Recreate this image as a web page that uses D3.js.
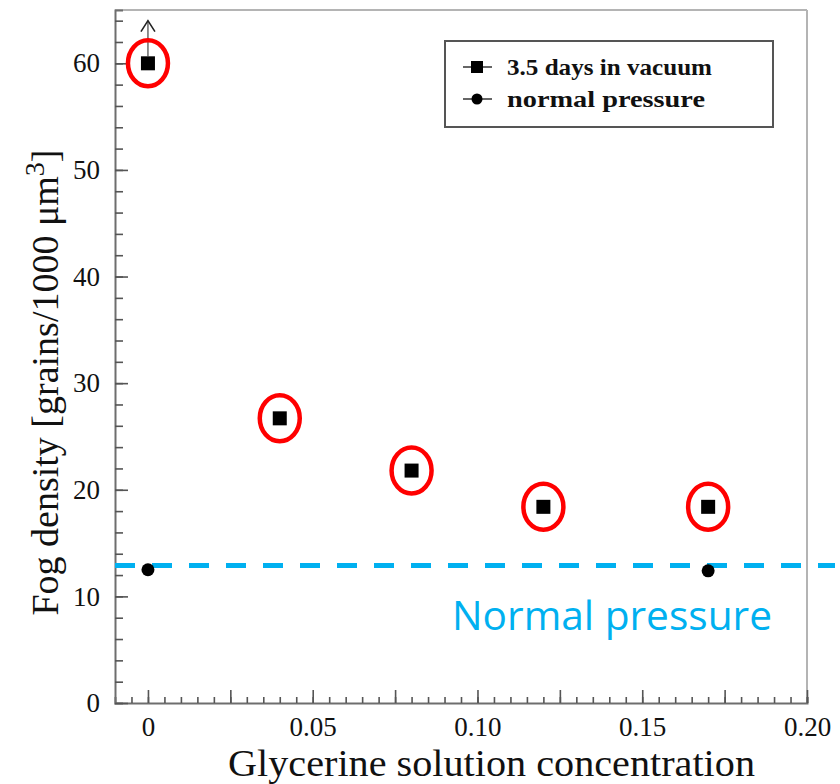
<!DOCTYPE html>
<html>
<head>
<meta charset="utf-8">
<script src="https://cdn.jsdelivr.net/npm/d3@7"></script>
<style>
  html, body { margin: 0; padding: 0; background: #fff; }
  svg { display: block; }
</style>
</head>
<body>
<svg id="chart" width="840" height="784"></svg>
<script>
// ---- data ----
const vacuumConc = [0, 0.04, 0.08, 0.12, 0.17];
const vacuumDensity = [60, 26.7, 21.8, 18.4, 18.4];
const normalConc = [0, 0.17];
const normalDensity = [12.5, 12.4];
const normalPressureLevel = 12.9;
const arrowTipValue = 64;
const xTickValues = [0, 0.05, 0.10, 0.15, 0.20];
const xTickLabels = ["0", "0.05", "0.10", "0.15", "0.20"];
const yTickValues = [0, 10, 20, 30, 40, 50, 60];
const yTickLabels = ["0", "10", "20", "30", "40", "50", "60"];
const legendLabels = ["3.5 days in vacuum", "normal pressure"];
const xTitle = "Glycerine solution concentration";
const annotationText = "Normal pressure";

// ---- layout ----
const svg = d3.select("#chart");
const L = 115, R = 807, T = 10, B = 703;
const x = d3.scaleLinear().domain([-0.01, 0.20]).range([L, R]);
const y = d3.scaleLinear().domain([0, 65]).range([B, T]);
const serif = "'Liberation Serif', 'DejaVu Serif', serif";

// frame (top/right)
svg.append("line").attr("x1", L).attr("x2", R).attr("y1", T).attr("y2", T)
  .attr("stroke", "#b4b4b4").attr("stroke-width", 2);
svg.append("line").attr("x1", R).attr("x2", R).attr("y1", T).attr("y2", B)
  .attr("stroke", "#b4b4b4").attr("stroke-width", 2);

// axes
function styleAxis(g) {
  g.select(".domain").attr("stroke", "#6e6e6e").attr("stroke-width", 2);
  g.selectAll(".tick line").attr("stroke", "#555").attr("stroke-width", 1.6);
}
const xMinor = d3.range(-0.005, 0.2001, 0.005);
const xMajor = d3.range(0, 0.2001, 0.025);
svg.append("g").attr("transform", `translate(0,${B})`)
  .call(d3.axisBottom(x).tickValues(xMinor).tickSize(-6).tickFormat(""))
  .call(styleAxis);
svg.append("g").attr("transform", `translate(0,${B})`)
  .call(d3.axisBottom(x).tickValues(xMajor).tickSize(-13).tickFormat(""))
  .call(g => g.select(".domain").remove())
  .call(styleAxis);
svg.append("g").attr("transform", `translate(0,${B})`)
  .call(d3.axisBottom(x).tickValues(xTickValues).tickSize(0)
    .tickFormat((d, i) => xTickLabels[i]).tickPadding(14))
  .call(g => g.select(".domain").remove())
  .call(g => g.selectAll("text").attr("font-family", serif).attr("font-size", 27)
    .attr("fill", "#111").attr("dy", "0.71em"));

const yMinor = d3.range(2, 65, 2);
svg.append("g").attr("transform", `translate(${L},0)`)
  .call(d3.axisLeft(y).tickValues(yMinor).tickSize(-8).tickFormat(""))
  .call(styleAxis);
svg.append("g").attr("transform", `translate(${L},0)`)
  .call(d3.axisLeft(y).tickValues(yTickValues).tickSize(-13).tickFormat(""))
  .call(g => g.select(".domain").remove())
  .call(styleAxis);
svg.append("g").attr("transform", `translate(${L},0)`)
  .call(d3.axisLeft(y).tickValues(yTickValues).tickSize(0)
    .tickFormat((d, i) => yTickLabels[i]).tickPadding(15))
  .call(g => g.select(".domain").remove())
  .call(g => g.selectAll("text").attr("font-family", serif).attr("font-size", 27)
    .attr("fill", "#111"));

// axis titles
svg.append("text").attr("x", (228 + 755) / 2).attr("y", 776)
  .attr("text-anchor", "middle").attr("font-family", serif).attr("font-size", 38)
  .attr("textLength", 527).attr("lengthAdjust", "spacingAndGlyphs")
  .attr("fill", "#111").text(xTitle);
const yt = svg.append("text").attr("transform", `translate(58,${(625 + 140) / 2}) rotate(-90)`)
  .attr("text-anchor", "middle").attr("font-family", serif).attr("font-size", 38)
  .attr("fill", "#111");
yt.append("tspan").text("Fog density [grains/1000 μm");
yt.append("tspan").attr("dy", -14).attr("font-size", 28).text("3");
yt.append("tspan").attr("dy", 14).text("]");

// normal pressure dashed line
svg.append("line")
  .attr("x1", L).attr("x2", 835)
  .attr("y1", y(normalPressureLevel)).attr("y2", y(normalPressureLevel))
  .attr("stroke", "#00b0f0").attr("stroke-width", 5)
  .attr("stroke-dasharray", "20 17");

svg.append("text").attr("x", 452).attr("y", 630)
  .attr("font-family", "'Open Sans', 'Noto Sans', sans-serif").attr("font-size", 40)
  .attr("textLength", 320).attr("lengthAdjust", "spacingAndGlyphs")
  .attr("fill", "#00b0f0").text(annotationText);

// arrow on first point
svg.append("line")
  .attr("x1", x(vacuumConc[0])).attr("x2", x(vacuumConc[0]))
  .attr("y1", y(vacuumDensity[0]) - 7).attr("y2", y(arrowTipValue))
  .attr("stroke", "#444").attr("stroke-width", 1.2);
svg.append("path")
  .attr("d", `M${x(0) - 7},${y(arrowTipValue) + 11} L${x(0)},${y(arrowTipValue)} L${x(0) + 7},${y(arrowTipValue) + 11}`)
  .attr("fill", "none").attr("stroke", "#222").attr("stroke-width", 1.6);

// vacuum squares
const sq = 14;
svg.append("g").selectAll("rect").data(vacuumConc).join("rect")
  .attr("x", d => x(d) - sq / 2).attr("y", (d, i) => y(vacuumDensity[i]) - sq / 2)
  .attr("width", sq).attr("height", sq).attr("fill", "#000");

// normal pressure circles
svg.append("g").selectAll("circle").data(normalConc).join("circle")
  .attr("cx", d => x(d)).attr("cy", (d, i) => y(normalDensity[i]))
  .attr("r", 6.5).attr("fill", "#000");

// red ellipses
svg.append("g").selectAll("ellipse").data(vacuumConc).join("ellipse")
  .attr("cx", d => x(d)).attr("cy", (d, i) => y(vacuumDensity[i]))
  .attr("rx", 20).attr("ry", 23)
  .attr("fill", "none").attr("stroke", "#f00").attr("stroke-width", 4.5);

// legend
const lg = svg.append("g");
lg.append("rect").attr("x", 445).attr("y", 41).attr("width", 328).attr("height", 86)
  .attr("fill", "#fff").attr("stroke", "#555").attr("stroke-width", 2);
const rowY = [67, 99];
lg.selectAll("line.seg").data(rowY).join("line").attr("class", "seg")
  .attr("x1", 463).attr("x2", 492).attr("y1", d => d).attr("y2", d => d)
  .attr("stroke", "#333").attr("stroke-width", 1.5);
lg.append("rect").attr("x", 477 - 6).attr("y", rowY[0] - 6).attr("width", 12).attr("height", 12).attr("fill", "#000");
lg.append("circle").attr("cx", 477).attr("cy", rowY[1]).attr("r", 5.5).attr("fill", "#000");
const legendWidths = [205, 198];
lg.selectAll("text").data(legendLabels).join("text")
  .attr("x", 507).attr("y", (d, i) => rowY[i] + 8)
  .attr("font-family", serif).attr("font-size", 23).attr("font-weight", "bold")
  .attr("textLength", (d, i) => legendWidths[i]).attr("lengthAdjust", "spacingAndGlyphs")
  .attr("fill", "#111").text(d => d);
</script>
</body>
</html>
